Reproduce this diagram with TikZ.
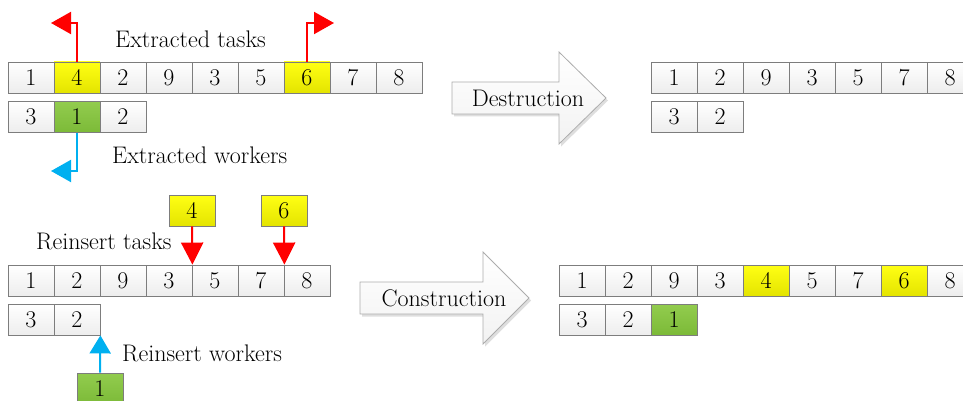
\documentclass[tikz,border=0pt]{standalone}
\usetikzlibrary{arrows.meta,shadows}
\definecolor{cellline}{RGB}{125,125,125}
\definecolor{yelA}{RGB}{255,255,20}
\definecolor{yelB}{RGB}{228,228,0}
\definecolor{grnA}{RGB}{146,204,78}
\definecolor{grnB}{RGB}{124,186,56}
\definecolor{skyblue}{RGB}{0,176,240}
\begin{document}
\begin{tikzpicture}[x=1pt,y=-1pt,
  font=\fontsize{24}{28}\selectfont,
  cell/.style={draw=cellline, line width=0.8pt, minimum width=46pt, minimum height=31pt,
    inner sep=0pt, top color=white, bottom color=gray!14},
  ycell/.style={cell, top color=yelA, bottom color=yelB},
  gcell/.style={cell, top color=grnA, bottom color=grnB},
  lbl/.style={anchor=base west, inner sep=0pt},
  redup/.style={draw=red, line width=2pt, -{Triangle[length=20pt,width=22pt]}},
  bluedn/.style={draw=skyblue, line width=2pt, -{Triangle[length=20pt,width=22pt]}},
  reddown/.style={draw=red, line width=2pt, -{Triangle[length=22pt,width=22pt]}},
  blueup/.style={draw=skyblue, line width=2pt, -{Triangle[length=18pt,width=21pt]}},
  bigarrow/.style={draw=gray!65, line width=0.8pt, top color=white, bottom color=gray!10,
    drop shadow={shadow xshift=2pt, shadow yshift=-2.5pt, opacity=0.13, fill=black}}]
\useasboundingbox (0,0) rectangle (963,401);

% ---------- top left ----------
\foreach \v/\s [count=\i from 0] in {1/cell,4/ycell,2/cell,9/cell,3/cell,5/cell,6/ycell,7/cell,8/cell}
  \node[\s] (a\i) at ({31+46*\i},77.5) {\v};
\foreach \v/\s [count=\i from 0] in {3/cell,1/gcell,2/cell}
  \node[\s] (w\i) at ({31+46*\i},117) {\v};

\coordinate (tipA) at (51,23);
\coordinate (tipB) at (334,23);
\coordinate (tipC) at (51,171);
\draw[redup] (a1.north) |- (tipA);
\draw[redup] (a6.north) |- (tipB);
\draw[bluedn] (w1.south) |- (tipC);

\node[lbl] (lt1) at (115,47.5) {Extracted tasks};
\node[lbl] (lt2) at (112,163) {Extracted workers};

% ---------- destruction arrow ----------
\path[bigarrow] (452,82) -- (559,82) -- (559,52) -- (606,98) -- (559,144) -- (559,114) -- (452,114) -- cycle;
\node (destr) at (528,98) {Destruction};

% ---------- top right ----------
\foreach \v [count=\i from 0] in {1,2,9,3,5,7,8}
  \node[cell] (b\i) at ({674+46*\i},77.5) {\v};
\foreach \v [count=\i from 0] in {3,2}
  \node[cell] (bw\i) at ({674+46*\i},117) {\v};

% ---------- bottom left ----------
\foreach \v [count=\i from 0] in {1,2,9,3,5,7,8}
  \node[cell] (c\i) at ({31+46*\i},280.5) {\v};
\foreach \v [count=\i from 0] in {3,2}
  \node[cell] (cw\i) at ({31+46*\i},319.5) {\v};

\node[ycell] (ins4) at (192,210.5) {4};
\node[ycell] (ins6) at (284,210.5) {6};
\node[gcell] (insw) at (100,388.5) {1};

\draw[reddown] (ins4.south) -- (c3.north east);
\draw[reddown] (ins6.south) -- (c5.north east);
\draw[blueup] (insw.north) -- (cw1.south east);

\node[lbl] (lt3) at (36,249.5) {Reinsert tasks};
\node[lbl] (lt4) at (122,361) {Reinsert workers};

% ---------- construction arrow ----------
\path[bigarrow] (360,282) -- (483,282) -- (483,252) -- (529,298) -- (483,344) -- (483,314) -- (360,314) -- cycle;
\node (constr) at (444,298) {Construction};

% ---------- bottom right ----------
\foreach \v/\s [count=\i from 0] in {1/cell,2/cell,9/cell,3/cell,4/ycell,5/cell,7/cell,6/ycell,8/cell}
  \node[\s] (d\i) at ({582+46*\i},280.5) {\v};
\foreach \v/\s [count=\i from 0] in {3/cell,2/cell,1/gcell}
  \node[\s] (dw\i) at ({582+46*\i},319.5) {\v};
\end{tikzpicture}
\end{document}
